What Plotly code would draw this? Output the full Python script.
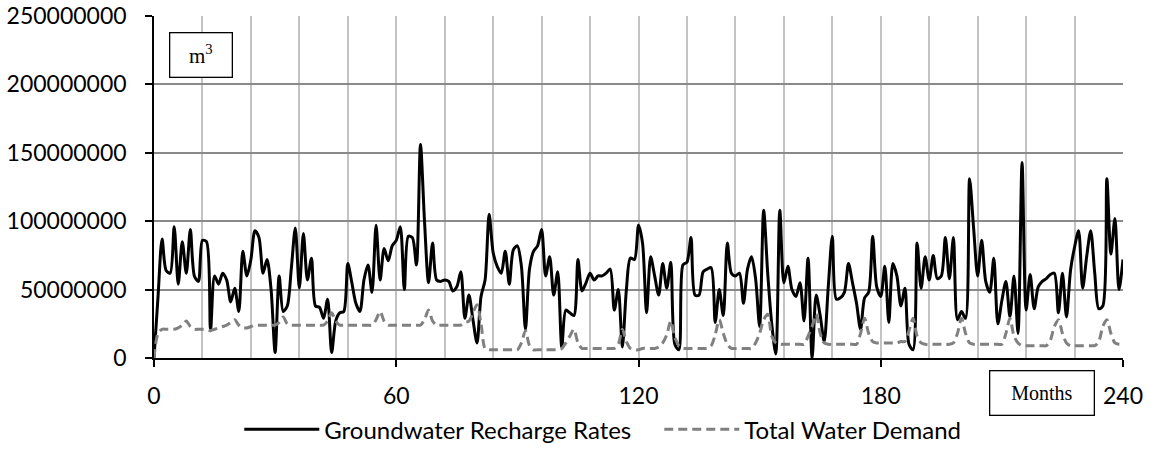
import plotly.graph_objects as go

# Months 0..240
months = list(range(241))

# Groundwater recharge rates (million m3), one row per 12 months
recharge_mcm = [
    0, 45, 87, 64, 62, 96, 54, 85, 62, 94, 60, 56,
    86, 85, 20, 60, 54, 62, 57, 41, 51, 34, 78, 60,
    72, 93, 88, 62, 72, 50, 4, 60, 34, 38, 65, 95,
    51, 91, 57, 73, 38, 37, 29, 43, 4, 27, 33, 34,
    69, 55, 40, 34, 57, 68, 48, 97, 57, 80, 71, 82,
    86, 96, 50, 89, 88, 68, 156, 100, 55, 84, 57, 56,
    57, 56, 49, 52, 63, 29, 46, 28, 11, 45, 57, 105,
    77, 67, 62, 78, 54, 79, 82, 67, 21, 65, 78, 82,
    94, 60, 74, 46, 63, 8, 35, 33, 31, 72, 49, 55,
    62, 57, 60, 60, 62, 65, 35, 50, 8, 50, 73, 72,
    97, 84, 33, 74, 60, 46, 69, 51, 70, 10, 6, 68,
    70, 88, 46, 46, 63, 65, 66, 26, 50, 31, 84, 62,
    60, 62, 40, 65, 74, 58, 23, 108, 62, 25, 3, 108,
    55, 67, 50, 45, 55, 27, 73, 0, 46, 31, 12, 52,
    89, 43, 44, 48, 69, 55, 40, 21, 44, 48, 89, 52,
    45, 67, 26, 69, 60, 38, 51, 10, 6, 84, 51, 74,
    57, 75, 58, 60, 88, 58, 88, 28, 34, 29, 131, 95,
    60, 86, 56, 48, 73, 25, 42, 56, 30, 60, 18, 143,
    35, 61, 36, 52, 56, 58, 61, 62, 33, 62, 30, 64,
    81, 93, 51, 74, 93, 62, 36, 38, 131, 76, 102, 50,
    72,
]

# Total water demand (million m3)
demand_mcm = [
    0, 18, 21, 21, 21, 21, 22, 24, 27, 23, 21, 21,
    21, 21, 20, 21, 22, 23, 24, 26, 28, 24, 22, 22,
    23, 24, 24, 24, 24, 24, 24, 26, 30, 25, 24, 24,
    24, 24, 24, 24, 24, 24, 24, 27, 33, 27, 24, 24,
    24, 24, 24, 24, 24, 24, 24, 28, 34, 27, 24, 24,
    24, 24, 24, 24, 24, 24, 24, 28, 35, 27, 24, 24,
    24, 24, 24, 24, 24, 26, 27, 33, 39, 25, 7, 6,
    6, 6, 6, 6, 6, 6, 6, 11, 20, 9, 6, 6,
    6, 6, 6, 6, 6, 7, 11, 16, 21, 11, 7, 7,
    7, 7, 7, 7, 7, 7, 7, 10, 21, 12, 7, 6,
    6, 7, 7, 7, 7, 8, 11, 17, 27, 15, 9, 7,
    7, 7, 7, 7, 7, 7, 9, 17, 28, 18, 10, 7,
    7, 7, 7, 7, 7, 11, 18, 28, 32, 16, 11, 10,
    10, 10, 10, 10, 10, 10, 16, 23, 32, 18, 11, 10,
    10, 10, 10, 10, 10, 10, 10, 18, 29, 18, 12, 11,
    11, 11, 11, 11, 11, 12, 12, 20, 29, 16, 11, 10,
    10, 10, 10, 10, 10, 10, 11, 18, 29, 18, 11, 10,
    10, 10, 10, 10, 10, 10, 10, 18, 29, 16, 11, 9,
    9, 9, 9, 9, 9, 9, 13, 23, 28, 18, 11, 9,
    9, 9, 9, 9, 9, 9, 12, 23, 28, 18, 11, 10,
    10,
]

x_ticks = [0, 60, 120, 180, 240]
y_ticks = [0, 50000000, 100000000, 150000000, 200000000, 250000000]
series_names = ["Groundwater Recharge Rates", "Total Water Demand"]

recharge = [v * 1e6 for v in recharge_mcm]
demand = [v * 1e6 for v in demand_mcm]

fig = go.Figure()
fig.add_trace(go.Scatter(
    x=months, y=recharge, mode="lines", name=series_names[0],
    line=dict(color="black", width=3, shape="spline", smoothing=0.8),
))
fig.add_trace(go.Scatter(
    x=months, y=demand, mode="lines", name=series_names[1],
    line=dict(color="#808080", width=3, dash="9px,5px", shape="spline", smoothing=0.8),
))

sans = "Lato, Open Sans, sans-serif"
tick_font = dict(family=sans, size=23, color="black")

fig.update_xaxes(
    range=[0, 240], tickvals=x_ticks, ticktext=[str(v) for v in x_ticks],
    ticks="outside", ticklen=7, tickwidth=1.5, tickcolor="black",
    showline=True, linecolor="black", linewidth=1.5,
    showgrid=True, gridcolor="#c3c3c3", gridwidth=1.5,
    minor=dict(dtick=12, tick0=0, showgrid=True, gridcolor="#c3c3c3", gridwidth=1.5, ticks=""),
    zeroline=False, tickfont=tick_font, ticklabelstandoff=10,
)
fig.update_yaxes(
    range=[0, 250000000], tickvals=y_ticks, ticktext=[str(v) for v in y_ticks],
    ticks="outside", ticklen=7, tickwidth=1.5, tickcolor="black",
    showline=True, linecolor="black", linewidth=1.5,
    showgrid=True, gridcolor="#8a8a8a", gridwidth=1.5,
    zeroline=False, tickfont=tick_font, ticklabelstandoff=14,
)

serif = "Liberation Serif, Times New Roman, serif"
fig.add_annotation(xref="paper", yref="paper", x=0.0485, y=0.886,
                   xanchor="center", yanchor="middle",
                   width=61, height=43, borderpad=0,
                   bordercolor="black", borderwidth=1.3, bgcolor="white",
                   text="m<sup>3</sup>", showarrow=False, align="center", valign="middle",
                   font=dict(family=serif, size=21, color="black"))
fig.add_annotation(xref="paper", yref="paper", x=0.916, y=-0.1033,
                   xanchor="center", yanchor="middle",
                   width=103, height=43, borderpad=0,
                   bordercolor="black", borderwidth=1.3, bgcolor="white",
                   text="Months", showarrow=False, align="center", valign="middle",
                   font=dict(family=serif, size=20, color="black"))

fig.update_layout(
    width=1155, height=450,
    margin=dict(l=154, r=32, t=16, b=92, autoexpand=False),
    paper_bgcolor="white", plot_bgcolor="white",
    showlegend=True,
    legend=dict(orientation="h", xref="paper", x=0.088, xanchor="left",
                yref="container", y=0.045, yanchor="middle",
                font=dict(family=sans, size=24, color="black"),
                itemwidth=75, entrywidth=330, bgcolor="rgba(0,0,0,0)"),
)

fig.write_html("out.html", config={"displayModeBar": False},
               post_script="document.body.style.margin='0';")
